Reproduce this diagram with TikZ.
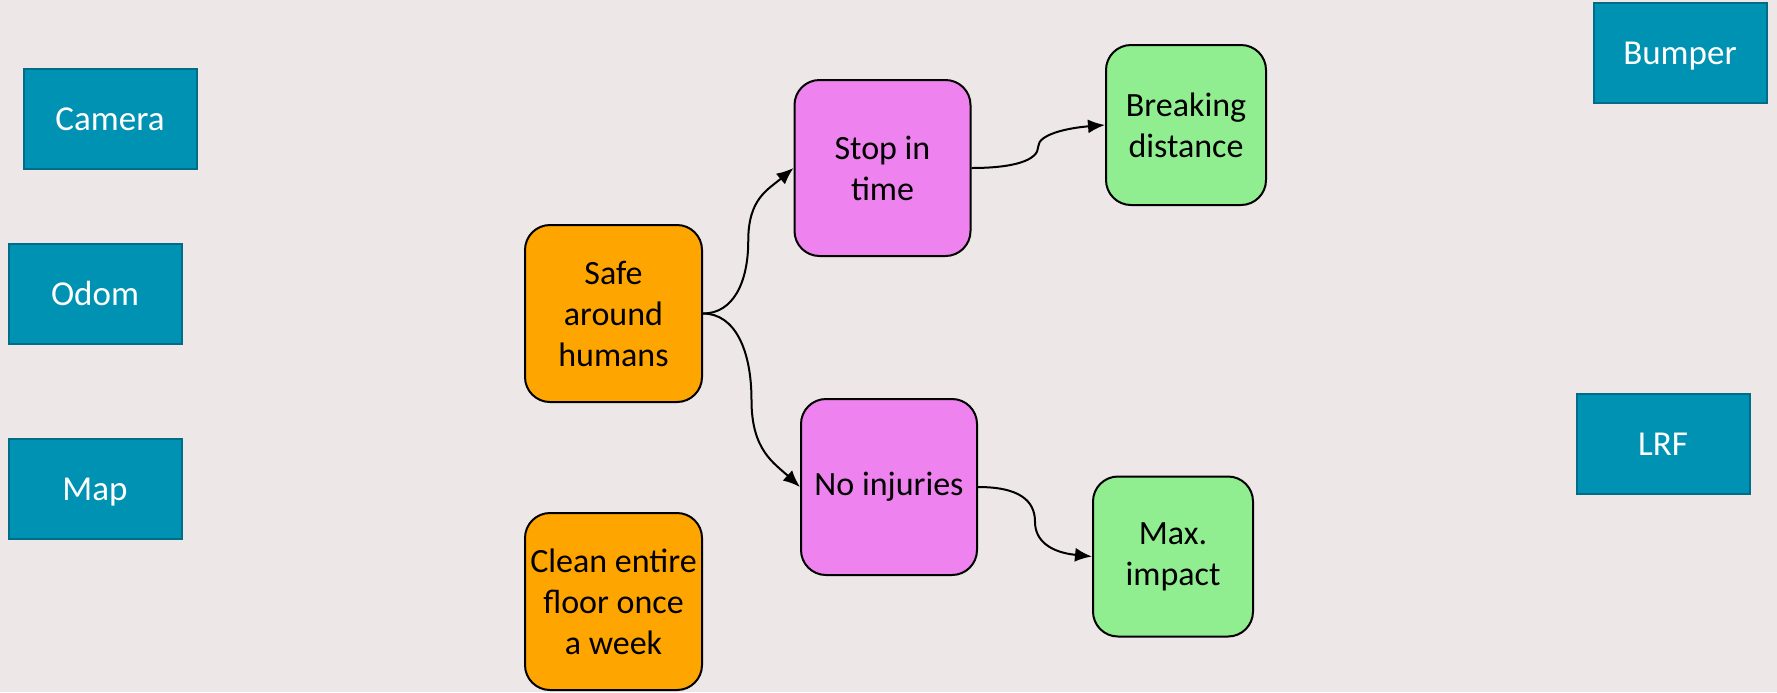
\documentclass[tikz,border=0pt]{standalone}
\usepackage{fontspec}
\setmainfont{Carlito}
\usetikzlibrary{arrows.meta,calc}
\definecolor{bgcol}{RGB}{237,231,231}
\definecolor{sensorfill}{RGB}{0,146,178}
\definecolor{sensorline}{RGB}{0,108,135}
\definecolor{goalfill}{RGB}{255,165,0}
\definecolor{subfill}{RGB}{238,130,238}
\definecolor{leaffill}{RGB}{144,238,144}
\begin{document}
\begin{tikzpicture}[x=0.5pt,y=-0.5pt,
  sensor/.style={draw=sensorline,line width=1pt,fill=sensorfill,text=white,
    minimum width=86.5pt,minimum height=50pt,inner sep=0pt,
    text height=12pt,text depth=0.8pt,
    font=\fontsize{17.5}{21}\selectfont},
  goalbox/.style={draw=black,line width=1pt,rounded corners=12.5pt,
    align=center,inner sep=0pt,font=\fontsize{17}{20.5}\selectfont},
  goal/.style={goalbox,fill=goalfill,minimum width=88.5pt,minimum height=88.5pt},
  sub/.style={goalbox,fill=subfill,minimum width=88pt,minimum height=88pt},
  leaf/.style={goalbox,fill=leaffill,minimum width=80pt,minimum height=80pt},
  link/.style={draw=black,line width=1pt,-{Latex[length=8.5pt,width=7pt]}}]
% page and background
\fill[bgcol] (0,0) rectangle (1777,692);
\useasboundingbox (0,0) rectangle (1777,692);
% sensors
\node[sensor] (camera) at (110,119) {Camera};
\node[sensor] (odom) at (95,294) {Odom};
\node[sensor] (map) at (95,489) {Map};
\node[sensor] (bumper) at (1680,53) {Bumper};
\node[sensor] (lrf) at (1663,444) {LRF};
% goal tree
\node[goal] (safe) at (613.5,313.5) {Safe\\around\\humans};
\node[goal] (clean) at (613.5,601.5) {Clean entire\\floor once\\a week};
\node[sub] (stop) at (882.5,168) {Stop in\\time};
\node[sub] (noinj) at (889,487) {No injuries};
\node[leaf] (brake) at (1186,125) {Breaking\\distance};
\node[leaf] (impact) at (1173,556.5) {Max.\\impact};
% connectors
\draw[link] (safe.east) .. controls +(30,0) and +(0,42) .. ($(safe.east)!.5!(stop.west)$)
  .. controls +(0,-42) and +(-26,22) .. (stop.west);
\draw[link] (safe.east) .. controls +(32,0) and +(0,-50) .. ($(safe.east)!.5!(noinj.west)$)
  .. controls +(0,50) and +(-26,-24) .. (noinj.west);
\draw[link] (stop.east) .. controls +(42,0) and +(0,14) .. ($(stop.east)!.5!(brake.west)$)
  .. controls +(0,-12) and +(-38,3) .. (brake.west);
\draw[link] (noinj.east) .. controls +(40,0) and +(0,-22) .. ($(noinj.east)!.5!(impact.west)$)
  .. controls +(0,20) and +(-40,-4) .. (impact.west);
\end{tikzpicture}
\end{document}
